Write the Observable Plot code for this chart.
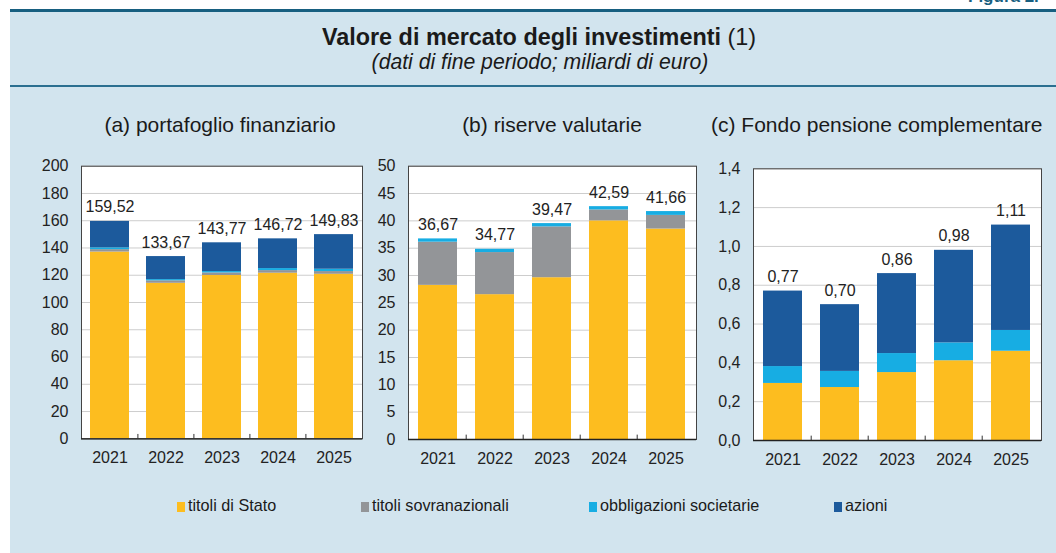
<!DOCTYPE html>
<html><head><meta charset="utf-8">
<script src="https://cdn.jsdelivr.net/npm/d3@7"></script>
<script src="https://cdn.jsdelivr.net/npm/@observablehq/plot@0.6"></script>
<style>
body{margin:0;width:1056px;height:553px;overflow:hidden;background:#fff;font-family:"Liberation Sans",Arial,Helvetica,sans-serif;position:relative;color:#1a1a1a}
#bg{position:absolute;left:10px;top:12px;right:0;bottom:0;background:#d2e4ee}
#topline{position:absolute;left:10px;top:9px;right:0;height:3px;background:#175f80}
#sep{position:absolute;left:10px;top:85px;right:0;height:2px;background:#2b6f90}
#fig{position:absolute;left:968px;top:-13px;font-weight:bold;font-size:17px;color:#175f80;white-space:nowrap}
#title{position:absolute;left:0;width:1078px;top:23px;text-align:center;font-size:23.4px;line-height:28px}
#title b{font-weight:bold}
#subtitle{position:absolute;left:0;width:1080px;top:49px;text-align:center;font-size:21.2px;line-height:26px;font-style:italic}
.ptitle{position:absolute;top:112px;font-size:21px;line-height:26px;white-space:nowrap}
.panel{position:absolute;top:140px}
.leg{position:absolute;top:495px;font-size:16.2px;line-height:20px;white-space:nowrap}
.leg i{display:inline-block;width:8px;height:10px;margin-right:3px;vertical-align:-1px}
</style></head>
<body>
<div id="bg"></div>
<div id="topline"></div>
<div id="fig">Figura 2.</div>
<div id="title"><b>Valore di mercato degli investimenti</b> (1)</div>
<div id="subtitle">(dati di fine periodo; miliardi di euro)</div>
<div id="sep"></div>
<div class="ptitle" id="ta"></div>
<div class="ptitle" id="tb"></div>
<div class="ptitle" id="tc"></div>
<div class="panel" id="pa" style="left:0px"></div>
<div class="panel" id="pb" style="left:370px"></div>
<div class="panel" id="pc" style="left:700px"></div>
<div id="legend"></div>
<script>
const years = ["2021", "2022", "2023", "2024", "2025"];
const seriesNames = ["titoli di Stato", "titoli sovranazionali", "obbligazioni societarie", "azioni"];
const seriesColors = ["#fdbd1f", "#939598", "#17ade3", "#1c5a9c"];
const panelTitles = ["(a) portafoglio finanziario", "(b) riserve valutarie", "(c) Fondo pensione complementare"];

// (a) portafoglio finanziario
const aStato   = [137.0, 114.1, 119.8, 121.5, 120.7];
const aSovran  = [1.8, 1.8, 1.9, 1.9, 2.0];
const aObblig  = [1.3, 0.9, 1.0, 1.5, 1.7];
const aAzioni  = [19.4, 16.9, 21.1, 21.8, 25.4];
const aTotals  = [159.52, 133.67, 143.77, 146.72, 149.83];
const aTicks   = [0, 20, 40, 60, 80, 100, 120, 140, 160, 180, 200];

// (b) riserve valutarie
const bStato   = [28.2, 26.5, 29.6, 40.0, 38.5];
const bSovran  = [7.9, 7.7, 9.3, 2.0, 2.5];
const bObblig  = [0.6, 0.6, 0.6, 0.6, 0.7];
const bAzioni  = [0, 0, 0, 0, 0];
const bTotals  = [36.67, 34.77, 39.47, 42.59, 41.66];
const bTicks   = [0, 5, 10, 15, 20, 25, 30, 35, 40, 45, 50];

// (c) Fondo pensione complementare
const cStato   = [0.294, 0.273, 0.350, 0.411, 0.460];
const cSovran  = [0, 0, 0, 0, 0];
const cObblig  = [0.087, 0.083, 0.098, 0.092, 0.107];
const cAzioni  = [0.389, 0.344, 0.412, 0.477, 0.543];
const cTotals  = [0.77, 0.70, 0.86, 0.98, 1.11];
const cTicks   = [0, 0.2, 0.4, 0.6, 0.8, 1.0, 1.2, 1.4];

const comma = (v, d) => v.toFixed(d).replace(".", ",");

function panel(el, cfg) {
  const rows = [];
  cfg.series.forEach((vals, s) => vals.forEach((v, i) => {
    if (v > 0) rows.push({year: years[i], serie: seriesNames[s], value: v});
  }));
  const tot = years.map((y, i) => ({year: y, total: cfg.totals[i]}));
  const pi = 0.31, po = 0.155;
  const inner = cfg.width - cfg.ml - cfg.mr;
  const step = inner / (years.length - pi + 2 * po);
  const ymax = cfg.ticks[cfg.ticks.length - 1];
  const chart = Plot.plot({
    width: cfg.width, height: 340,
    marginLeft: cfg.ml, marginRight: cfg.mr, marginTop: cfg.mt, marginBottom: cfg.mb,
    style: {background: "transparent", fontFamily: "'Liberation Sans', Arial, sans-serif", fontSize: "16px", color: "#222"},
    x: {domain: years, paddingInner: pi, paddingOuter: po, label: null, tickSize: 0, tickPadding: 13},
    y: {domain: [0, ymax], ticks: cfg.ticks, tickFormat: cfg.fmt, label: null, tickSize: 0, tickPadding: 13},
    color: {domain: seriesNames, range: seriesColors},
    marks: [
      Plot.frame({fill: "white", stroke: null}),
      Plot.gridY(cfg.ticks.slice(1), {stroke: "#cdcdcd", strokeOpacity: 1}),
      Plot.barY(rows, {x: "year", y: "value", fill: "serie"}),
      Plot.text(tot, {x: "year", y: "total", text: d => cfg.label(d.total), dy: -9, lineAnchor: "bottom", fontSize: 16, fill: "#222"}),
      Plot.ruleX(years.slice(1), {x: d => d, y1: 0, y2: ymax * 0.016, dx: -step / 2, stroke: "#333"}),
      Plot.frame({stroke: "#444"}),
      Plot.ruleY([0], {stroke: "#222", strokeWidth: 1.3}),
      Plot.axisY({ticks: cfg.ticks, tickFormat: cfg.fmt, tickSize: 0, tickPadding: 13, fontSize: 16, label: null}),
      Plot.axisX({tickSize: 0, tickPadding: 13, fontSize: 16, label: null})
    ]
  });
  document.getElementById(el).appendChild(chart);
}

panel("pa", {width: 370, ml: 81, mr: 8, mt: 25.7, mb: 41.7,
  series: [aStato, aSovran, aObblig, aAzioni], totals: aTotals, ticks: aTicks,
  fmt: d => String(d), label: v => comma(v, 2)});
panel("pb", {width: 330, ml: 38, mr: 4, mt: 25.7, mb: 41,
  series: [bStato, bSovran, bObblig, bAzioni], totals: bTotals, ticks: bTicks,
  fmt: d => String(d), label: v => comma(v, 2)});
panel("pc", {width: 356, ml: 53, mr: 15, mt: 28.3, mb: 40,
  series: [cStato, cSovran, cObblig, cAzioni], totals: cTotals, ticks: cTicks,
  fmt: d => comma(d, 1), label: v => comma(v, 2)});

// panel titles
const tpos = [{id: "ta", center: 220}, {id: "tb", center: 552}, {id: "tc", left: 711}];
tpos.forEach((p, i) => {
  const e = document.getElementById(p.id);
  e.textContent = panelTitles[i];
  if (p.left !== undefined) e.style.left = p.left + "px";
  else { e.style.left = (p.center - 200) + "px"; e.style.width = "400px"; e.style.textAlign = "center"; }
});

// legend
const legX = [177, 361, 589, 834];
const lg = document.getElementById("legend");
seriesNames.forEach((n, i) => {
  const d = document.createElement("div");
  d.className = "leg";
  d.style.left = legX[i] + "px";
  d.innerHTML = `<i style="background:${seriesColors[i]}"></i>${n}`;
  lg.appendChild(d);
});
</script>
</body></html>
